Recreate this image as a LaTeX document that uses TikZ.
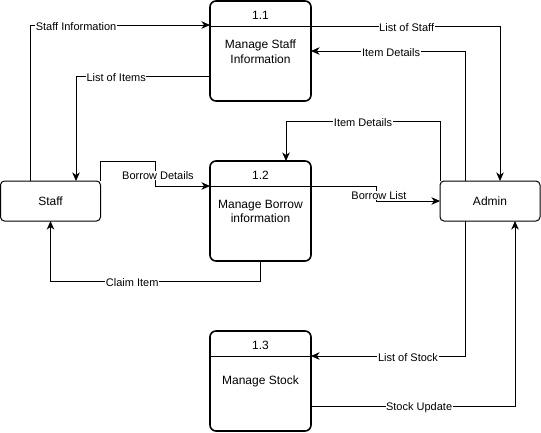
\documentclass[tikz,border=0pt]{standalone}
\usepackage{fontspec}
\setmainfont{Liberation Sans}
\usetikzlibrary{arrows.meta}
\begin{document}
\begin{tikzpicture}[x=1pt,y=-1pt,
  proc/.style={draw,line width=1.6pt,rounded corners=6pt,minimum width=101pt,minimum height=100pt,outer sep=0pt,inner sep=0pt},
  ent/.style={draw,line width=1pt,rounded corners=4pt,minimum width=100pt,minimum height=40pt,outer sep=0pt,inner sep=0pt,font=\fontsize{12pt}{14pt}\selectfont},
  ptxt/.style={font=\fontsize{12pt}{14.5pt}\selectfont,align=center,inner sep=0pt},
  lbl/.style={fill=white,font=\fontsize{11pt}{13pt}\selectfont,inner sep=0.6pt,yshift=-2pt},
  flow/.style={draw,line width=1pt,-{Stealth[length=8.5pt,width=7.5pt,inset=2.5pt]}},
  divl/.style={line width=1pt}
]
\useasboundingbox (0,0) rectangle (541,432);

% process boxes
\node[proc] (p11) at (260.5,51) {};
\node[proc] (p12) at (260.5,211) {};
\node[proc] (p13) at (260.5,381) {};
\draw[divl] ([yshift=-25pt]p11.north west) -- ([yshift=-25pt]p11.north east);
\draw[divl] ([yshift=-25pt]p12.north west) -- ([yshift=-25pt]p12.north east);
\draw[divl] ([yshift=-25pt]p13.north west) -- ([yshift=-25pt]p13.north east);
\node[ptxt] (n11) at (260.5,15) {1.1};
\node[ptxt] (n12) at (260.5,175) {1.2};
\node[ptxt] (n13) at (260.5,345) {1.3};
\node[ptxt] (t11) at (260.5,51.5) {Manage Staff\\Information};
\node[ptxt] (t12) at (260.5,211.5) {Manage Borrow\\information};
\node[ptxt] (t13) at (260.5,381) {Manage Stock};

% external entities
\node[ent] (staff) at (50.5,201) {Staff};
\node[ent] (admin) at (490,201) {Admin};

% connectors
\draw[flow] ([xshift=-20.5pt]staff.north) |- node[lbl,pos=0.628]{Staff Information} ([yshift=-24pt]p11.north west);
\draw[flow] ([yshift=-75pt]p11.north west) -| node[lbl,pos=0.35]{List of Items} ([xshift=25.5pt]staff.north);
\draw[flow] ([yshift=-25pt]p11.north east) -| node[lbl,pos=0.253]{List of Staff} ([xshift=10pt]admin.north);
\draw[flow] ([xshift=-25pt]admin.north) |- node[lbl,pos=0.74]{Item Details} ([yshift=-50pt]p11.north east);
\draw[flow] (admin.north west) -- (440,121) -- node[lbl]{Item Details} (286,121) -- ([xshift=76pt]p12.north west);
\draw[flow] (staff.north east) -- (100.5,161) -- (155,161) -- node[lbl,xshift=3pt]{Borrow Details} (155,186) -- ([yshift=-25pt]p12.north west);
\draw[flow] ([yshift=-25pt]p12.north east) -- (376,186) -- node[lbl,xshift=3pt]{Borrow List} (376,201) -- (admin.west);
\draw[flow] ([xshift=-0.5pt]p12.south) -- (260,281) -- node[lbl,pos=0.61]{Claim Item} (50.5,281) -- (staff.south);
\draw[flow] ([xshift=-25pt]admin.south) |- node[lbl,pos=0.685]{List of Stock} ([yshift=-25pt]p13.north east);
\draw[flow] ([yshift=-75pt]p13.north east) -| node[lbl,pos=0.265]{Stock Update} ([xshift=25pt]admin.south);
\end{tikzpicture}
\end{document}
